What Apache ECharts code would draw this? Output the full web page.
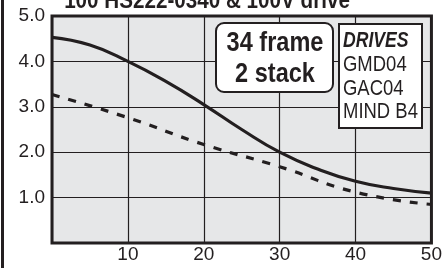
<!DOCTYPE html>
<html>
<head>
<meta charset="utf-8">
<style>
  html, body { margin: 0; padding: 0; background: #fff; }
  #chart { width: 445px; height: 268px; }
</style>
<script src="https://cdn.jsdelivr.net/npm/echarts@6/dist/echarts.min.js"></script>
</head>
<body>
<div id="chart"></div>
<script>
// speed (x) vs torque (y)
const solidX = [0, 5, 10, 15, 20, 25, 30, 35, 40, 45, 50];
const solidY = [4.53, 4.36, 4.0, 3.56, 3.05, 2.5, 2.0, 1.63, 1.36, 1.2, 1.1];
const dashX = [0, 10, 20, 30, 40, 50];
const dashY = [3.27, 2.76, 2.17, 1.68, 1.12, 0.85];

const titleText = "100 HS222-0340 & 100V drive";
const frameLines = ["34 frame", "2 stack"];
const drivesHead = "DRIVES";
const drivesList = ["GMD04", "GAC04", "MIND B4"];

const ink = "#231f20";
const sans = "'Liberation Sans', Arial, sans-serif";

const chart = echarts.init(document.getElementById("chart"));

const zip = (xs, ys) => xs.map((x, i) => [x, ys[i]]);

// condensed look: plain sans squeezed horizontally
function label(text, x, y, font, align, sx) {
  return {
    type: "text", x: x, y: y, z: 101, scaleX: sx,
    style: { text: text, fill: ink, font: font, textAlign: align, textVerticalAlign: "middle" },
  };
}

const option = {
  animation: false,
  grid: {
    left: 52, right: 13, top: 16, bottom: 25,
    show: true,
    backgroundColor: "#e6e7e8",
    borderColor: ink,
    borderWidth: 3,
  },
  xAxis: {
    type: "value",
    min: 0, max: 50, interval: 10,
    axisLine: { show: false },
    axisTick: { show: false },
    splitLine: { lineStyle: { color: ink, width: 1.2 } },
    axisLabel: {
      color: ink, fontSize: 19, fontFamily: sans, margin: 2,
      formatter: (v) => (v === 0 ? "" : String(v)),
    },
  },
  yAxis: {
    type: "value",
    min: 0, max: 5, interval: 1,
    axisLine: { show: false },
    axisTick: { show: false },
    splitLine: { lineStyle: { color: ink, width: 1.2 } },
    axisLabel: {
      color: ink, fontSize: 19, fontFamily: sans, margin: 7,
      formatter: (v) => (v === 0 ? "" : v.toFixed(1)),
    },
  },
  series: [
    {
      type: "line",
      data: zip(solidX, solidY),
      smooth: 0.5,
      symbol: "none",
      lineStyle: { color: ink, width: 3.2 },
    },
    {
      type: "line",
      data: zip(dashX, dashY),
      smooth: 0.5,
      symbol: "none",
      lineStyle: { color: ink, width: 3.2, type: [8, 9] },
    },
  ],
  graphic: [
    { type: "rect", shape: { x: 1, y: 0, width: 3, height: 268 }, style: { fill: ink } },
    {
      type: "text", x: 207, y: 13, scaleX: 0.86,
      style: {
        text: titleText, fill: ink, font: "bold 24px " + sans,
        textAlign: "center", textVerticalAlign: "bottom",
      },
    },
    {
      type: "rect", shape: { x: 216, y: 23, width: 117, height: 69, r: 8 },
      style: { fill: "#fff", stroke: ink, lineWidth: 2 }, z: 100,
    },
    label(frameLines[0], 275, 43, "bold 28px " + sans, "center", 0.84),
    label(frameLines[1], 275, 74, "bold 28px " + sans, "center", 0.84),
    {
      type: "rect", shape: { x: 339, y: 24, width: 83, height: 104 },
      style: { fill: "#fff", stroke: ink, lineWidth: 2 }, z: 100,
    },
    label(drivesHead, 343, 41, "italic bold 22px " + sans, "left", 0.8),
    ...drivesList.map((t, i) => label(t, 343, 65 + i * 23.5, "22px " + sans, "left", 0.84)),
  ],
};

chart.setOption(option);
</script>
</body>
</html>
